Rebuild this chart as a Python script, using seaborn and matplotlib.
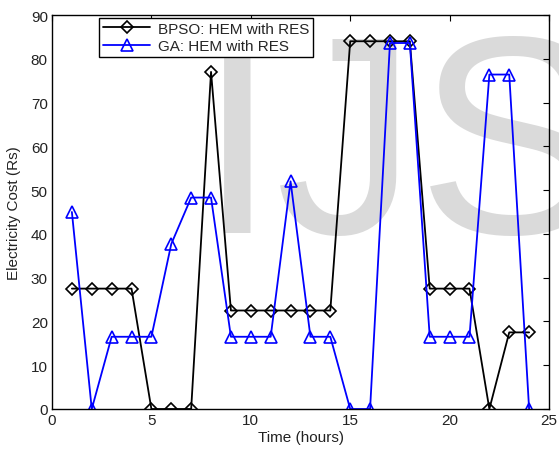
import numpy as np
import pandas as pd
import matplotlib
matplotlib.use("Agg")
import matplotlib.pyplot as plt
import seaborn as sns

# Hourly electricity cost (Rs) for each scheduler
hours = list(range(1, 25))
bpso_cost = [27.5, 27.5, 27.5, 27.5, 0, 0, 0, 77, 22.5, 22.5, 22.5, 22.5,
             22.5, 22.5, 84, 84, 84, 84, 27.5, 27.5, 27.5, 0, 17.5, 17.5]
ga_cost = [45, 0, 16.5, 16.5, 16.5, 37.7, 48.3, 48.3, 16.5, 16.5, 16.5, 52,
           16.5, 16.5, 0, 0, 83.6, 83.6, 16.5, 16.5, 16.5, 76.4, 76.4, 0]
series_names = ["BPSO: HEM with RES", "GA: HEM with RES"]

sns.set_theme(style="white")
plt.rcParams["font.family"] = ["Liberation Sans", "DejaVu Sans"]

df = pd.DataFrame({
    "hour": hours * 2,
    "cost": bpso_cost + ga_cost,
    "method": [series_names[0]] * len(hours) + [series_names[1]] * len(hours),
})

fig = plt.figure(figsize=(5.59, 4.52), dpi=100, facecolor="white")
ax = fig.add_axes([52 / 559, 42 / 452, 497 / 559, 394 / 452])
ax.set_facecolor("none")

# journal watermark behind the plot
fig.text(198 / 559, (452 - 233) / 452, "IJS", fontsize=204, color="#dadada",
         family="Liberation Sans", ha="left", va="baseline", zorder=-5)

styles = {series_names[0]: dict(color="black", marker="D", ms=6),
          series_names[1]: dict(color="#0000ff", marker="^", ms=8)}
for name in series_names:
    sub = df[df["method"] == name]
    st = styles[name]
    sns.lineplot(data=sub, x="hour", y="cost", ax=ax, color=st["color"],
                 marker=st["marker"], markersize=st["ms"], fillstyle="none",
                 markeredgewidth=1.2, markeredgecolor=st["color"],
                 linewidth=1.3, label=name, estimator=None, sort=False)

ax.set_xlim(0, 25)
ax.set_ylim(0, 90)
ax.set_xticks(range(0, 26, 5))
ax.set_yticks(range(0, 91, 10))
ax.tick_params(direction="in", length=4, width=0.8, top=True, right=True,
               labelsize=11, colors="black", pad=3)
ax.tick_params(axis="both", labelcolor="#222222")
for s in ax.spines.values():
    s.set_color("black")
    s.set_linewidth(1.0)
ax.set_xlabel("Time (hours)", fontsize=11, color="#222222", labelpad=2)
ax.set_ylabel("Electricity Cost (Rs)", fontsize=11, color="#222222", labelpad=7)

leg = ax.legend(loc="upper left", bbox_to_anchor=(47 / 497, 391 / 394),
                borderaxespad=0, fontsize=11, frameon=True, fancybox=False,
                handlelength=3.1, handletextpad=0.5, borderpad=0.25,
                labelspacing=0.2)
leg.get_frame().set_edgecolor("black")
leg.get_frame().set_linewidth(1.0)
leg.get_frame().set_facecolor("white")
leg.get_frame().set_alpha(1)

fig.savefig("out.png", dpi=100, facecolor="white")
